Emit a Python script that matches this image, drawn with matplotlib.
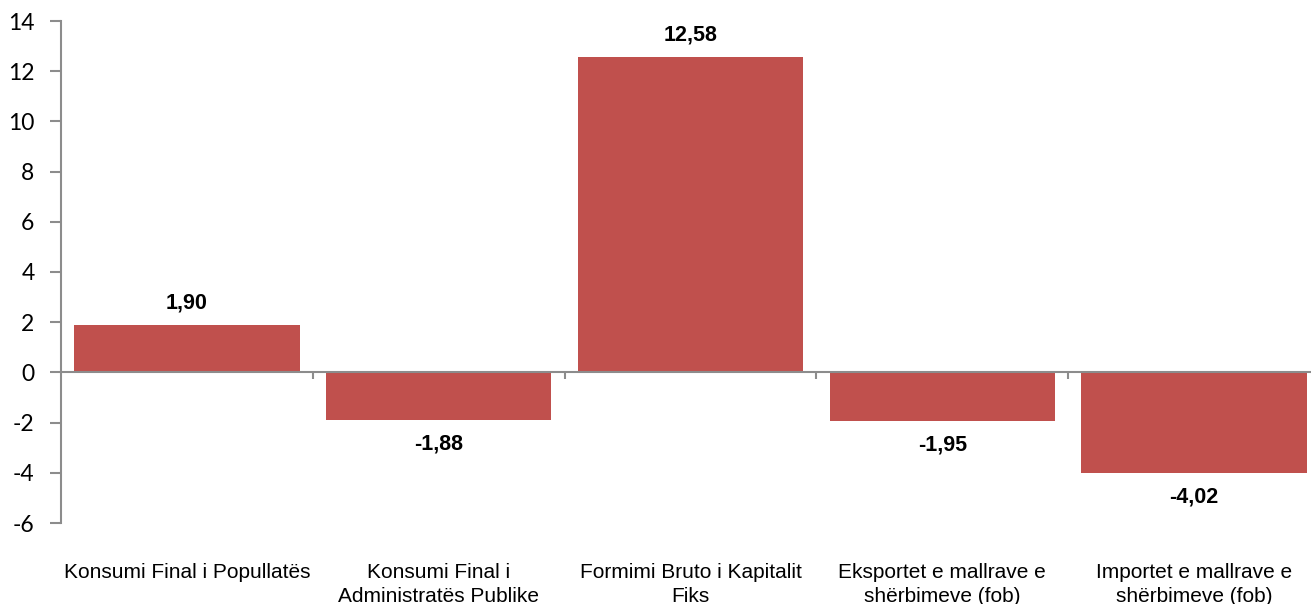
import matplotlib
matplotlib.use("Agg")
import matplotlib.pyplot as plt
import numpy as np

categories = ["Konsumi Final i Popullatës",
              "Konsumi Final i\nAdministratës Publike",
              "Formimi Bruto i Kapitalit\nFiks",
              "Eksportet e mallrave e\nshërbimeve (fob)",
              "Importet e mallrave e\nshërbimeve (fob)"]
values = [1.90, -1.88, 12.58, -1.95, -4.02]
yticks = [-6, -4, -2, 0, 2, 4, 6, 8, 10, 12, 14]

W, H = 1311, 604
fig = plt.figure(figsize=(W / 100, H / 100), dpi=100)
ax = fig.add_axes([61 / W, (H - 523) / H, (1320 - 61) / W, (523 - 21) / H])

x = np.arange(len(categories))
color = "#C0504D"
ax.bar(x, values, width=0.895, color=color, zorder=2)

ax.set_xlim(-0.5, len(categories) - 0.5)
ax.set_ylim(-6, 14)
ax.set_yticks(yticks)
ax.set_yticklabels([str(v) for v in yticks], fontfamily="Lato", fontsize=16.5)

gray = "#8c8c8c"
for s in ["top", "right"]:
    ax.spines[s].set_visible(False)
ax.spines["left"].set_color(gray)
ax.spines["left"].set_linewidth(1.5)
ax.spines["bottom"].set_position(("data", 0))
ax.spines["bottom"].set_color(gray)
ax.spines["bottom"].set_linewidth(1.5)
ax.spines["bottom"].set_zorder(3)
ax.tick_params(axis="y", direction="out", length=8, width=1.5, color=gray, pad=11)
ax.set_xticks([])
ax.set_xticks(x[:-1] + 0.5, minor=True)
ax.tick_params(axis="x", which="minor", direction="out", length=5, width=1.5, color=gray)

for i, v in enumerate(values):
    lbl = f"{v:.2f}".replace(".", ",")
    off = 22 if v >= 0 else -24
    ax.annotate(lbl, (i, v), xytext=(0, off), textcoords="offset pixels",
                ha="center", va="center", fontsize=15.5, fontweight="bold",
                fontfamily="Liberation Sans")

for i, c in enumerate(categories):
    ax.text(i, -0.08, c, transform=ax.get_xaxis_transform(), ha="center", va="top",
            fontsize=15, fontfamily="Liberation Sans", linespacing=1.3)

fig.savefig("out.png", dpi=100)
